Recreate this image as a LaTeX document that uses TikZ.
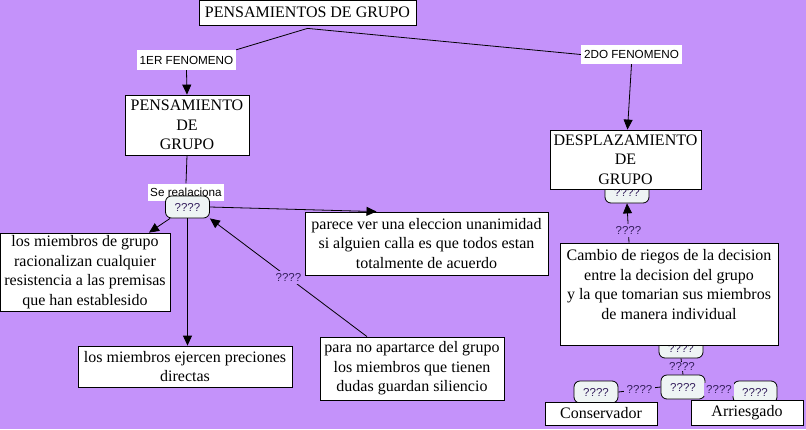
\documentclass[tikz,border=0pt]{standalone}
\usepackage{fontspec}
\setmainfont{Liberation Serif}
\setsansfont{Liberation Sans}
\usetikzlibrary{arrows.meta}
\definecolor{fondo}{RGB}{196,146,250}
\definecolor{nodoclaro}{RGB}{238,244,244}
\definecolor{tintaenlace}{RGB}{52,30,92}

\begin{document}
\begin{tikzpicture}[x=1pt, y=-1pt, >={Triangle[length=10pt,width=9pt]},
		caja/.style={draw, fill=white, line width=0.8pt, align=center, inner sep=1pt,
			font=\fontsize{16}{19.5}\selectfont},
		rotulo/.style={fill=white, inner sep=2pt, font=\sffamily\fontsize{11.7}{13}\selectfont},
		enlace/.style={draw, fill=nodoclaro, rounded corners=6pt, line width=0.8pt,
			minimum width=44pt, minimum height=22pt, inner sep=1pt, text=tintaenlace,
			font=\sffamily\fontsize{11.5}{13}\selectfont},
		frase/.style={fill=fondo, inner sep=2.5pt, text=tintaenlace,
			font=\sffamily\fontsize{11.5}{13}\selectfont},
		linea/.style={line width=0.8pt}]
		
		% 1. Fondo morado y tamaño de la hoja
		\fill[fondo] (0,0) rectangle (806,429);
		\useasboundingbox (0,0) rectangle (806,429);
		
		% 2. Titulo y los dos fenomenos
		\node[caja, minimum width=217pt, minimum height=25pt] (titulo) at (307.5,12.5) {PENSAMIENTOS DE GRUPO};
		\node[rotulo, minimum width=99pt, minimum height=20pt] (fen1) at (186.5,60) {1ER FENOMENO};
		\node[rotulo, minimum width=101pt, minimum height=19pt] (fen2) at (631.5,54.5) {2DO FENOMENO};
		
		% 3. Rama izquierda: pensamiento de grupo
		\node[caja, minimum width=124pt, minimum height=60pt] (pens) at (187,125) {PENSAMIENTO\\ DE\\ GRUPO};
		\node[rotulo, minimum width=76pt, minimum height=17pt] (serel) at (186,192) {Se realaciona};
		\node[enlace] (q1) at (187.5,207) {????};
		\node[caja, minimum width=170pt, minimum height=78pt] (racional) at (85,272) {los miembros de grupo\\ racionalizan cualquier\\ resistencia a las premisas\\ que han establesido};
		\node[caja, minimum width=214pt, minimum height=41pt] (ejercen) at (185,366.5) {los miembros ejercen preciones\\ directas};
		\node[caja, minimum width=243pt, minimum height=63pt] (parece) at (426.5,243.5) {parece ver una eleccion unanimidad\\ si alguien calla es que todos estan\\ totalmente de acuerdo};
		\node[caja, minimum width=184pt, minimum height=63pt] (parano) at (412,368.5) {para no apartarce del grupo\\ los miembros que tienen\\ dudas guardan siliencio};
		
		% 4. Rama derecha: desplazamiento de grupo
		% los ???? van antes que las cajas para quedar medio tapados
		\node[enlace] (q2) at (627,192) {????};
		\node[caja, minimum width=151pt, minimum height=59pt] (desp) at (625.5,159.5) {DESPLAZAMIENTO\\ DE\\ GRUPO};
		\node[enlace, minimum height=20pt] (q3) at (681,348) {????};
		\node[caja, minimum width=218pt, minimum height=102pt] (cambio) at (669,294) {Cambio de riegos de la decision\\ entre la decision del grupo\\ y la que tomarian sus miembros\\ de manera individual\\ \mbox{}};
		\node[enlace, minimum height=24pt] (q4) at (683,387) {????};
		\node[enlace] (q5) at (596,392) {????};
		\node[enlace] (q6) at (755,392) {????};
		\node[caja, minimum width=112pt, minimum height=23pt] (conserv) at (601,413.5) {Conservador};
		\node[caja, minimum width=112pt, minimum height=25pt] (arries) at (747,412.5) {Arriesgado};
		
		% 5. Conectores de arriba
		\draw[linea] (fen1.north east) -- ([yshift=-3pt]titulo.south) -- (fen2.west);
		\draw[linea, ->] (fen1.south) -- (pens.north);
		\draw[linea, ->] (fen2.south) -- ([xshift=2pt]desp.north);
		
		% 6. Conectores de la rama izquierda
		\draw[linea] (pens.south) -- (serel.north);
		\draw[linea, ->] ([xshift=5pt]q1.south west) -- ([xshift=64pt]racional.north);
		\draw[linea, ->] (q1.south) -- (q1.south |- ejercen.north);
		\draw[linea, ->] (q1.east) -- ([xshift=-50pt]parece.north);
		\draw[linea, ->] ([xshift=-45pt]parano.north) -- node[frase] {????} (q1.south east);
		
		% 7. Conectores de la rama derecha
		\draw[linea, ->] ([xshift=-40pt]cambio.north) -- node[frase, pos=0.3] {????} (q2.south);
		\draw[linea] (q3.south) -- node[frase, inner sep=0.5pt] {????} (q4.north);
		\draw[linea] (q4.west) -- node[frase] {????} (q5.east);
		\draw[linea] (q4.east) -- node[frase] {????} (q6.west);
		
	\end{tikzpicture}
\end{document}
